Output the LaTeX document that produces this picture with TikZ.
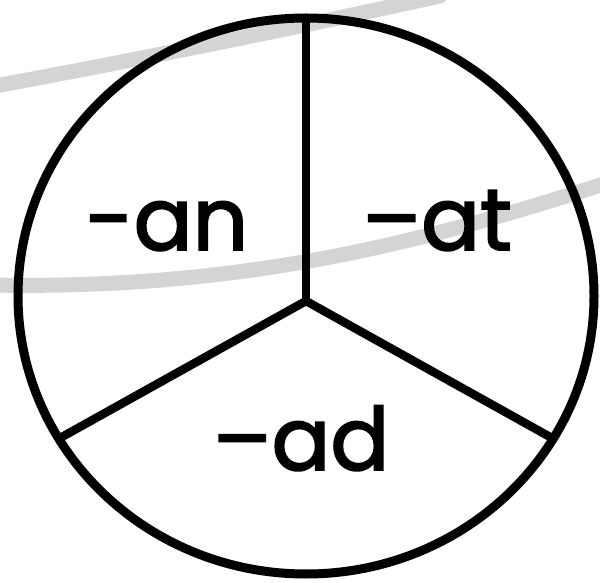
\documentclass[tikz,border=0pt]{standalone}
\usepackage{fontspec}
\setmainfont{Poppins}
\newfontfamily\rimefont{Poppins}[Ligatures=TeX, FakeBold=2.2]
\usepackage{tikz}
\usetikzlibrary{shapes.geometric, positioning, calc}
\usepackage{xcolor}
\tikzset{
  wheel/.style  = {draw, ellipse, line width=9pt, inner sep=0pt, outer sep=0pt,
                   minimum width=576pt, minimum height=556pt},
  spoke/.style  = {line width=8.5pt, line join=round, draw=black},
  streak/.style = {line width=15pt, draw=black!17, line cap=round},
  rime/.style   = {font=\rimefont\fontsize{87}{87}\selectfont, inner sep=0pt,
                   anchor=base}
}

\begin{document}
\begin{tikzpicture}[x=1pt, y=1pt]
\useasboundingbox (0,0) rectangle (600,582);
\clip (0,0) rectangle (600,582);
% Gray strokes behind the wheel
\draw[streak] (-10,495) .. controls (140,523) and (290,553) .. (440,586);
\draw[streak] (-10,297) .. controls (250,292) and (430,342) .. (610,400);
% Wheel and spokes
\node[wheel] (wheel) at (306,286) {};
\coordinate (hub) at ([yshift=-5pt]wheel.center);
\draw[spoke] (wheel.north) -- (hub);
\draw[spoke] (wheel.210) -- (hub) -- (wheel.330);
% Word endings
\node[rime] (an) at (167,332) {-an};
\node[rime] (at) at (437,332) {–at};
\node[rime] (ad) at (301,112) {–ad};
\end{tikzpicture}
\end{document}
